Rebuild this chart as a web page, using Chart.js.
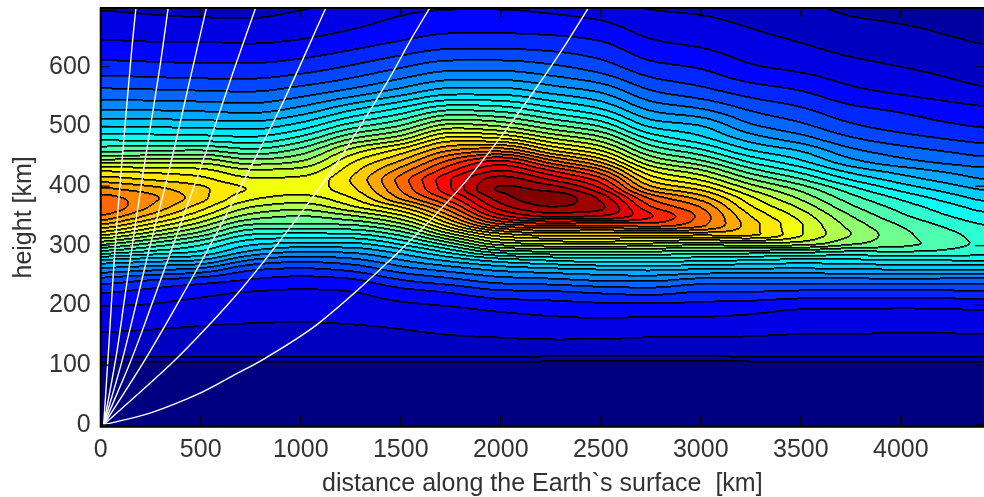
<!DOCTYPE html>
<html>
<head>
<meta charset="utf-8">
<title>height vs distance</title>
<script src="https://cdn.jsdelivr.net/npm/chart.js@4"></script>
<style>
html, body { margin: 0; padding: 0; background: #fff; overflow: hidden; }
canvas { display: block; filter: blur(0.45px); }
</style>
</head>
<body>
<canvas id="fieldChart" width="984" height="497"></canvas>
<script>
// ======================================================
// Data
// ======================================================

const xTicks = [0, 500, 1000, 1500, 2000, 2500, 3000, 3500, 4000];
const yTicks = [0, 100, 200, 300, 400, 500, 600];

// grid nodes (km)
const distances = [0, 250, 500, 750, 1000, 1250, 1500, 1750, 2000, 2250, 2500, 2750, 3000, 3250, 3500, 3750, 4000, 4416];
const heights = [0, 100, 105, 113, 150, 195, 220, 240, 260, 275, 290, 305, 320, 335, 350, 365, 380, 395, 410, 425, 440, 460, 480, 500, 530, 560, 600, 650, 700];

// field value at each height, one list per distance (unit: contour number)
const col0 = [.1, .8, 1, 2, 2.9, 3.9, 5, 6.4, 8.7, 10.8, 13.8, 16.8, 19.6, 22.1, 24.1, 25.2, 24.5, 23.3, 21.7, 20, 17.7, 14.7, 12.7, 11, 8.8, 7.2, 5.4, 3.9, 2.9];
const col250 = [.1, .8, 1, 2, 2.8, 3.8, 4.6, 5.8, 8.2, 10.3, 12.8, 15.1, 17.6, 19.8, 21.7, 22.9, 23.3, 22.4, 21, 19.7, 17.7, 14.8, 12.6, 10.9, 8.8, 7.1, 5.3, 3.8, 2.75];
const col500 = [.1, .8, 1, 2, 2.7, 3.6, 4.2, 5.3, 7.7, 9.9, 11.9, 13.5, 15.6, 17.5, 19.2, 20.5, 21.35, 21.25, 20.4, 19.4, 17.8, 15, 12.5, 10.8, 8.7, 7, 5.2, 3.8, 2.6];
const col750 = [.1, .8, 1, 2, 2.6, 3.5, 3.9, 4.8, 6.1, 7.8, 9.8, 11.4, 13.1, 14.9, 16.6, 18, 19.2, 19.9, 19.2, 18.2, 16.5, 14.2, 12.2, 10.6, 8.5, 6.9, 5.2, 3.7, 2.6];
const col1000 = [.1, .8, 1, 2, 2.6, 3.4, 3.8, 4.5, 5.8, 7.2, 9, 11, 12.9, 14.8, 16, 17.4, 18.6, 19.4, 19.2, 18.4, 17.1, 15.3, 13.3, 11.5, 9.2, 7.4, 5.5, 3.9, 2.9];
const col1250 = [.1, .8, 1, 2, 2.65, 3.5, 3.9, 4.7, 6.2, 7.6, 9.2, 11, 13, 15, 16.9, 18.8, 19.9, 20.7, 21, 20.6, 19.9, 18.3, 15.9, 13.6, 10.7, 8.2, 6.1, 4.3, 3.2];
const col1500 = [.1, .75, 1, 2, 2.8, 3.7, 4.5, 5.8, 7.5, 8.9, 10.4, 12.4, 14.4, 16.6, 18.8, 21, 23.2, 24.1, 24.4, 23.5, 22.2, 20.3, 17.5, 15.1, 12.1, 9.3, 6.9, 4.8, 3.7];
const col1750 = [.1, .7, 1, 2, 3, 3.9, 4.95, 6.5, 8.4, 10.2, 12.4, 15, 18, 20.8, 23, 24.9, 26.6, 27.9, 28, 26.9, 25.5, 23, 20.4, 17.6, 13.7, 10.4, 7.6, 5.2, 3.9];
const col2000 = [.1, .65, .95, 2, 3.1, 4.2, 5.6, 7.3, 9.3, 11.4, 14.6, 18, 21, 24.8, 27.8, 29.6, 30.6, 31.2, 30.6, 29.2, 27.5, 23.7, 20, 17, 13.4, 10.4, 7.6, 5.2, 3.9];
const col2250 = [.1, .6, .9, 1.9, 3.2, 4.4, 5.7, 7.5, 9.7, 12, 15, 18.5, 21.8, 25.5, 29.3, 31, 31.65, 30.7, 29, 27.1, 24.6, 21, 18, 15.4, 12.2, 9.6, 7.2, 5.1, 3.7];
const col2500 = [.1, .6, .9, 1.9, 3.2, 4.55, 6, 7.9, 10, 12.4, 15, 18.6, 21.6, 25.3, 29, 30.3, 29.8, 28.2, 26.6, 24.5, 22, 19, 16.4, 14, 11, 8.8, 6.5, 4.8, 3.4];
const col2750 = [.1, .6, .9, 1.9, 3.1, 4.55, 6.2, 8, 10.2, 12.4, 15, 18.3, 21.8, 25.6, 27.1, 26, 24.7, 22.5, 20.7, 19, 17.1, 14.8, 12.7, 10.8, 8.7, 7, 5.3, 3.9, 2.9];
const col3000 = [.1, .6, .9, 1.9, 3.1, 4.5, 5.8, 7.4, 9.9, 12.1, 14.6, 18, 21.6, 24.3, 24.7, 24, 22.6, 20.8, 19, 17.3, 15.4, 13.2, 11.3, 10.1, 8, 6.3, 4.9, 3.6, 2.8];
const col3250 = [.1, .6, .9, 1.95, 3.05, 4.35, 5.8, 7.4, 9.8, 11.9, 14.6, 18.2, 21.3, 21.45, 20.95, 20.1, 19.2, 17.8, 16.2, 14.5, 12.9, 11, 9.5, 8.2, 6.8, 5.5, 4.1, 3.2, 2.55];
const col3500 = [.1, .6, .95, 2, 2.95, 4.05, 5.6, 7.4, 9.75, 11.6, 14.4, 17.8, 19.1, 19.1, 18.6, 17.8, 16.8, 15.7, 14.2, 12.7, 11.3, 9.9, 8.4, 7.3, 6.1, 5, 3.75, 2.85, 2.2];
const col3750 = [.1, .6, .95, 2, 2.95, 4.05, 5.5, 7.4, 9.9, 11.7, 13.9, 16.3, 17, 16.6, 16, 15.2, 14.4, 13.4, 12, 10.7, 9.4, 8.2, 7.1, 6.2, 5.2, 4.2, 3.3, 2.45, 1.8];
const col4000 = [.1, .6, .95, 2, 2.9, 4, 5.5, 7.4, 10, 11.9, 14, 15.4, 15.3, 14.9, 14.2, 13.6, 12.8, 11.7, 10.6, 9.6, 8.4, 7.4, 6.4, 5.6, 4.8, 3.8, 3, 2.25, 1.7];
const col4416 = [.1, .6, .95, 2, 2.95, 4.1, 5.7, 7.4, 10, 12, 13.4, 13.7, 13.5, 12.9, 12.2, 11.5, 10.6, 9.8, 9, 8.3, 7.4, 6.5, 5.6, 4.9, 4.1, 3.1, 2.5, 1.85, 1.5];

const fieldColumns = [col0, col250, col500, col750, col1000, col1250, col1500, col1750, col2000,
    col2250, col2500, col2750, col3000, col3250, col3500, col3750, col4000, col4416];

const topContour = 31;

// white rays, all starting at the origin
const ray1X = [15, 43, 71, 111, 155, 176];
const ray1H = [0, 145, 293, 460, 628, 698];
const ray2X = [15, 80, 121, 155, 211, 296, 337];
const ray2H = [0, 120, 215, 293, 420, 600, 698];
const ray3X = [15, 105, 161, 236, 346, 431, 528];
const ray3H = [0, 105, 180, 285, 432, 556, 698];
const ray4X = [15, 136, 205, 261, 361, 497, 661, 774];
const ray4H = [0, 95, 155, 207, 300, 428, 590, 698];
const ray5X = [15, 205, 311, 405, 546, 697, 911, 1125];
const ray5H = [0, 100, 160, 215, 300, 397, 540, 698];
const ray6X = [15, 355, 530, 697, 861, 1061, 1197, 1430, 1555, 1644];
const ray6H = [0, 103, 163, 225, 293, 382, 447, 573, 648, 698];
const ray7X = [15, 250, 497, 660, 830, 1097, 1497, 1797, 2011, 2197, 2331, 2437];
const ray7H = [0, 20, 53, 82, 113, 172, 292, 397, 487, 574, 641, 698];

const rays = [[ray1X, ray1H], [ray2X, ray2H], [ray3X, ray3H], [ray4X, ray4H], [ray5X, ray5H], [ray6X, ray6H], [ray7X, ray7H]];

// ======================================================
// Colours and interpolation for the filled contours
// ======================================================

function jet(t) {

    const ramp = (v) => Math.max(0, Math.min(1, v));

    return [
        255 * ramp(Math.min(4 * t - 1.5, 4.5 - 4 * t)),
        255 * ramp(Math.min(4 * t - 0.5, 3.5 - 4 * t)),
        255 * ramp(Math.min(4 * t + 0.5, 2.5 - 4 * t))
    ];

}

// monotone cubic through nodes, so the sharp steps do not overshoot
function monotone(xs, ys) {

    const n = xs.length;
    const slopes = [];
    const tangents = new Array(n).fill(0);

    for (let i = 0; i < n - 1; i++) {
        slopes.push((ys[i + 1] - ys[i]) / (xs[i + 1] - xs[i]));
    }

    tangents[0] = slopes[0];
    tangents[n - 1] = slopes[n - 2];

    for (let i = 1; i < n - 1; i++) {
        if (slopes[i - 1] * slopes[i] > 0) {
            const a = xs[i] - xs[i - 1];
            const b = xs[i + 1] - xs[i];
            tangents[i] = 3 * (a + b) / ((2 * b + a) / slopes[i - 1] + (b + 2 * a) / slopes[i]);
        }
    }

    return function (x) {

        let i = 0;
        if (x <= xs[0]) return ys[0];
        if (x >= xs[n - 1]) return ys[n - 1];
        while (x > xs[i + 1]) i++;

        const h = xs[i + 1] - xs[i];
        const t = (x - xs[i]) / h;
        const t2 = t * t;
        const t3 = t2 * t;

        return (2 * t3 - 3 * t2 + 1) * ys[i] + (t3 - 2 * t2 + t) * h * tangents[i]
            + (3 * t2 - 2 * t3) * ys[i + 1] + (t3 - t2) * h * tangents[i + 1];

    };

}

// box filter along a row, takes the kinks out between grid columns
function smoothRow(row, radius) {

    const out = new Float64Array(row.length);

    for (let c = 0; c < row.length; c++) {

        let sum = 0;

        for (let k = -radius; k <= radius; k++) {
            sum += row[Math.max(0, Math.min(row.length - 1, c + k))];
        }

        out[c] = sum / (2 * radius + 1);

    }

    return out;

}

// ======================================================
// Field plugin, drawn through the chart's scales
// ======================================================

const fieldPlugin = {

    id: "field",

    beforeDatasetsDraw(chart) {

        const { ctx, chartArea, scales } = chart;
        const left = Math.floor(chartArea.left);
        const top = Math.floor(chartArea.top);
        const width = Math.ceil(chartArea.right) - left;
        const height = Math.ceil(chartArea.bottom) - top;

        const profiles = fieldColumns.map((column) => monotone(heights, column));
        const bands = [];

        for (let r = 0; r < height; r++) {

            const h = scales.y.getValueForPixel(top + r + 0.5);
            const across = monotone(distances, profiles.map((profile) => profile(h)));
            const row = new Float64Array(width);

            for (let c = 0; c < width; c++) {
                row[c] = across(scales.x.getValueForPixel(left + c + 0.5));
            }

            bands.push(smoothRow(smoothRow(row, 10), 10).map(Math.floor));

        }

        const buffer = document.createElement("canvas");
        buffer.width = width;
        buffer.height = height;

        const bufferCtx = buffer.getContext("2d");
        const image = bufferCtx.createImageData(width, height);

        for (let r = 0; r < height; r++) {

            for (let c = 0; c < width; c++) {

                const band = bands[r][c];
                const color = jet(Math.min(1, Math.max(0, band) / topContour));
                let shade = 1;

                if ((r + 1 < height && bands[r + 1][c] !== band) || (c + 1 < width && bands[r][c + 1] !== band)) {
                    shade = 0;
                } else if ((r > 0 && bands[r - 1][c] !== band) || (c > 0 && bands[r][c - 1] !== band)) {
                    shade = 0.35;
                }

                const at = (r * width + c) * 4;
                image.data[at] = color[0] * shade;
                image.data[at + 1] = color[1] * shade;
                image.data[at + 2] = color[2] * shade;
                image.data[at + 3] = 255;

            }

        }

        bufferCtx.putImageData(image, 0, 0);
        ctx.drawImage(buffer, left, top);

    },

    afterDatasetsDraw(chart) {

        const { ctx, chartArea, scales } = chart;
        const { left, right, top, bottom } = chartArea;

        ctx.save();
        ctx.strokeStyle = "#000";
        ctx.lineWidth = 1.2;
        ctx.beginPath();

        xTicks.forEach((value) => {
            const px = scales.x.getPixelForValue(value);
            ctx.moveTo(px, top);
            ctx.lineTo(px, top + 9);
            ctx.moveTo(px, bottom);
            ctx.lineTo(px, bottom - 11);
        });

        yTicks.forEach((value) => {
            const py = scales.y.getPixelForValue(value);
            ctx.moveTo(left, py);
            ctx.lineTo(left + 9, py);
            ctx.moveTo(right, py);
            ctx.lineTo(right - 9, py);
        });

        ctx.stroke();

        ctx.lineWidth = 2;
        ctx.beginPath();
        ctx.moveTo(right, top);
        ctx.lineTo(left, top);
        ctx.lineTo(left, bottom);
        ctx.lineTo(right, bottom);
        ctx.stroke();
        ctx.restore();

    }

};

// ======================================================
// Chart
// ======================================================

const labelFont = { family: "'Liberation Sans', Arial, sans-serif", size: 25 };

new Chart(document.querySelector("#fieldChart"), {

    type: "scatter",

    data: {

        datasets: rays.map(([xs, hs]) => ({
            data: xs.map((x, i) => ({ x: x, y: hs[i] })),
            showLine: true,
            borderColor: "#ffffff",
            borderWidth: 1.4,
            pointRadius: 0,
            tension: 0.35
        }))

    },

    options: {

        responsive: false,
        animation: false,
        devicePixelRatio: 1,

        layout: {
            padding: { top: 8, right: 0, bottom: 0, left: 0 }
        },

        plugins: {
            legend: { display: false },
            tooltip: { enabled: false }
        },

        scales: {

            x: {
                type: "linear",
                min: 0,
                max: 4416,
                grid: { display: false },
                border: { display: false },
                afterBuildTicks: (scale) => { scale.ticks = xTicks.map((value) => ({ value })); },
                afterFit: (scale) => {
                    scale.height = 70.3;
                    scale.paddingLeft = 0;
                    scale.paddingRight = 0;
                },
                ticks: {
                    font: labelFont,
                    color: "#333333",
                    padding: 0,
                    maxRotation: 0,
                    callback: (value) => String(value)
                },
                title: {
                    display: true,
                    text: "distance along the Earth`s surface  [km]",
                    font: labelFont,
                    color: "#333333",
                    padding: { top: 0, bottom: -2 }
                }
            },

            y: {
                type: "linear",
                min: -3.3,
                max: 698.5,
                grid: { display: false },
                border: { display: false },
                afterBuildTicks: (scale) => { scale.ticks = yTicks.map((value) => ({ value })); },
                afterFit: (scale) => {
                    scale.width = 100.7;
                    scale.paddingTop = 0;
                    scale.paddingBottom = 0;
                },
                ticks: {
                    font: labelFont,
                    color: "#333333",
                    padding: 2,
                    callback: (value) => String(value)
                },
                title: {
                    display: true,
                    text: "height [km]",
                    font: labelFont,
                    color: "#333333",
                    padding: { top: 9, bottom: 0 }
                }
            }

        }

    },

    plugins: [fieldPlugin]

});
</script>
</body>
</html>
